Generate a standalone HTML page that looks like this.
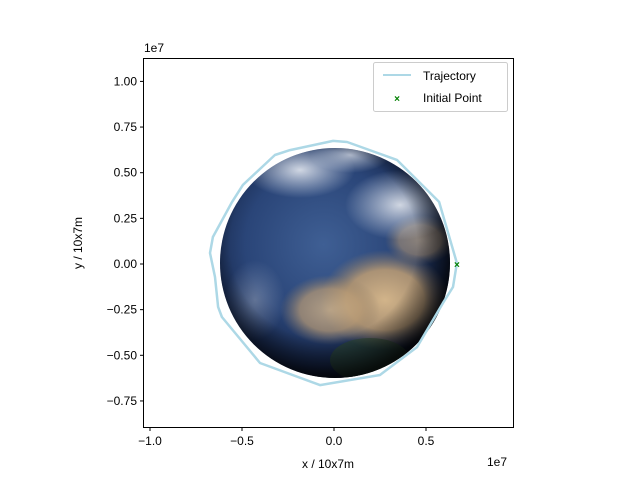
<!DOCTYPE html>
<html><head><meta charset="utf-8"><style>
body{margin:0;background:#fff;font-family:"Liberation Sans",sans-serif;}
svg text{font-family:"Liberation Sans",sans-serif;font-size:12px;fill:#000;}
</style></head><body>
<svg id="chart" width="640" height="480" viewBox="0 0 640 480" xmlns="http://www.w3.org/2000/svg">
<defs>
<radialGradient id="ocean" cx="0.45" cy="0.42" r="0.62">
<stop offset="0" stop-color="#3f5f94"/><stop offset="0.55" stop-color="#2a4578"/><stop offset="0.85" stop-color="#162649"/><stop offset="1" stop-color="#070b18"/>
</radialGradient>
<radialGradient id="land" cx="0.5" cy="0.5" r="0.5">
<stop offset="0" stop-color="#d2b48a"/><stop offset="0.6" stop-color="#b89a74" stop-opacity="0.9"/><stop offset="1" stop-color="#8f7c64" stop-opacity="0"/>
</radialGradient>
<radialGradient id="cloud" cx="0.5" cy="0.5" r="0.5">
<stop offset="0" stop-color="#eef1f6" stop-opacity="0.85"/><stop offset="1" stop-color="#dfe6f0" stop-opacity="0"/>
</radialGradient>
<radialGradient id="shade" cx="0.45" cy="0.42" r="0.58">
<stop offset="0.7" stop-color="#000" stop-opacity="0"/><stop offset="1" stop-color="#000" stop-opacity="0.75"/>
</radialGradient>
<clipPath id="earthclip"><circle cx="335" cy="263" r="115"/></clipPath>
</defs>
<g>
<circle cx="335" cy="263" r="115" fill="url(#ocean)"/>
<g clip-path="url(#earthclip)">
<ellipse cx="385" cy="300" rx="65" ry="50" fill="url(#land)"/>
<ellipse cx="330" cy="310" rx="50" ry="35" fill="url(#land)" opacity="0.8"/>
<ellipse cx="370" cy="360" rx="40" ry="22" fill="#2d4a2e" opacity="0.6"/>
<ellipse cx="420" cy="240" rx="35" ry="25" fill="url(#land)" opacity="0.6"/>
<ellipse cx="300" cy="170" rx="55" ry="28" fill="url(#cloud)"/>
<ellipse cx="400" cy="205" rx="55" ry="35" fill="url(#cloud)"/>
<ellipse cx="350" cy="155" rx="40" ry="18" fill="url(#cloud)" opacity="0.8"/>
<ellipse cx="255" cy="300" rx="30" ry="40" fill="url(#cloud)" opacity="0.35"/>
</g>
<circle cx="335" cy="263" r="115" fill="url(#shade)"/>
</g>
<g id="plot"></g>
<rect x="143.5" y="58.5" width="370" height="369" fill="none" stroke="#000" stroke-width="1"/>
<text x="144" y="52">1e7</text>
<text x="487" y="466">1e7</text>
<text x="328" y="468" text-anchor="middle">x / 10x7m</text>
<text transform="translate(82,243) rotate(-90)" text-anchor="middle">y / 10x7m</text>
<g>
<rect x="373.5" y="62.5" width="134" height="49" rx="2" fill="#fff" fill-opacity="0.8" stroke="#ccc"/>
<line x1="383" y1="75" x2="411" y2="75" stroke="#add8e6" stroke-width="2"/>
<text x="423" y="80">Trajectory</text>
<text x="397" y="102" text-anchor="middle" fill="#008000" style="fill:#008000;font-size:10px;font-weight:bold">×</text>
<text x="423" y="102">Initial Point</text>
</g>
</svg>
<script>
const trajX = [0.668,0.571,0.342,0.071,-0.005,-0.239,-0.321,-0.495,-0.554,-0.658,-0.674,-0.647,-0.630,-0.609,-0.402,-0.076,0.250,0.451,0.592,0.647,0.668];
const trajY = [0.005,0.340,0.570,0.668,0.674,0.624,0.597,0.433,0.340,0.148,0.060,-0.071,-0.235,-0.290,-0.542,-0.663,-0.608,-0.455,-0.214,-0.126,0.005];
const initialPoint = [0.668, 0.0];
const xTicks = [-1.0,-0.5,0.0,0.5];
const xTickLabels = ["−1.0","−0.5","0.0","0.5"];
const yTicks = [-0.75,-0.5,-0.25,0,0.25,0.5,0.75,1.0];
const yTickLabels = ["−0.75","−0.50","−0.25","0.00","0.25","0.50","0.75","1.00"];

const NS='http://www.w3.org/2000/svg';
const sx = v => 334 + v*184;
const sy = v => 264 - v*182.6;
const plot = document.getElementById('plot');
function mk(tag, attrs){const e=document.createElementNS(NS,tag);for(const k in attrs)e.setAttribute(k,attrs[k]);return e;}

const pts = trajX.map((x,i)=>sx(x).toFixed(1)+','+sy(trajY[i]).toFixed(1)).join(' ');
const line = mk('polyline',{points:pts,fill:'none',stroke:'#add8e6','stroke-width':2.5,'stroke-linejoin':'round'});


plot.appendChild(line);

const ip = mk('text',{x:sx(initialPoint[0]),y:sy(initialPoint[1])+4,'text-anchor':'middle',style:'fill:#008000;font-size:10px;font-weight:bold'});
ip.textContent='×';


plot.appendChild(ip);

xTicks.forEach((t,i)=>{
  const x=sx(t);
  const tk=mk('line',{x1:x,y1:427.5,x2:x,y2:431,stroke:'#000'});
  
  
  plot.appendChild(tk);
  const lb=mk('text',{x:x,y:445,'text-anchor':'middle'});
  lb.textContent=xTickLabels[i];
  
  
  plot.appendChild(lb);
});
yTicks.forEach((t,i)=>{
  const y=sy(t);
  const tk=mk('line',{x1:140,y1:y,x2:143.5,y2:y,stroke:'#000'});
  
  
  plot.appendChild(tk);
  const lb=mk('text',{x:137,y:y+4,'text-anchor':'end'});
  lb.textContent=yTickLabels[i];
  
  
  plot.appendChild(lb);
});
</script>
</body></html>
